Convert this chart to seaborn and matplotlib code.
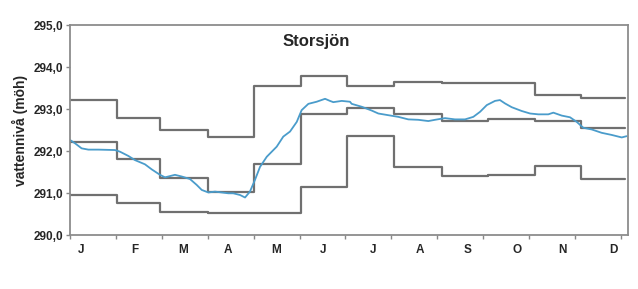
import numpy as np
import pandas as pd
import matplotlib
matplotlib.use("Agg")
import matplotlib.pyplot as plt
import seaborn as sns

# ---- data ----
step_days = [1, 32, 60, 91, 121, 152, 182, 213, 244, 274, 305, 335, 364]
upper_limit = [293.22, 292.79, 292.51, 292.35, 293.56, 293.79, 293.56, 293.66, 293.62, 293.62, 293.35, 293.28, 293.28]
middle_line = [292.21, 291.82, 291.37, 291.04, 291.69, 292.90, 293.04, 292.90, 292.72, 292.76, 292.73, 292.55, 292.55]
lower_limit = [290.97, 290.78, 290.56, 290.52, 290.53, 291.14, 292.37, 291.63, 291.41, 291.44, 291.66, 291.35, 291.35]

obs_days = [1, 4.3, 8.6, 13, 19.5, 30.4, 33.7, 39.1, 43.5, 50, 54.4, 59.8, 63.1, 69.6, 74,
            79.4, 83.8, 87.1, 91.4, 95.8, 104.5, 107.7, 112.1, 115.4, 118.6, 121.9, 125.2,
            129.6, 136.1, 140.4, 144.8, 149.2, 152.4, 156.8, 162.2, 167.7, 170.9, 173.1,
            178.6, 184, 185.1, 191.7, 198.2, 202.5, 209, 215.6, 222.1, 228.6, 235.2, 239.6,
            246.1, 252.6, 259.2, 264.6, 269, 273.4, 278.8, 282, 285.3, 289.7, 296.2, 301.7,
            307.1, 313.6, 316.9, 322.4, 327.8, 332.2, 336.5, 342, 348.5, 355, 361.6, 364.8]
obs_level = [292.27, 292.19, 292.07, 292.04, 292.04, 292.03, 291.99, 291.89, 291.79, 291.69,
             291.57, 291.44, 291.38, 291.44, 291.40, 291.34, 291.20, 291.08, 291.02, 291.04,
             291.00, 291.00, 290.96, 290.90, 291.04, 291.32, 291.63, 291.87, 292.11, 292.35,
             292.47, 292.70, 292.98, 293.13, 293.18, 293.25, 293.20, 293.17, 293.20, 293.18,
             293.13, 293.06, 292.97, 292.90, 292.86, 292.82, 292.76, 292.75, 292.72, 292.75,
             292.79, 292.76, 292.76, 292.82, 292.94, 293.10, 293.20, 293.22, 293.14, 293.05,
             292.96, 292.90, 292.88, 292.88, 292.92, 292.85, 292.81, 292.70, 292.56, 292.52,
             292.44, 292.39, 292.33, 292.36]
# fix lengths (observations)
obs_days = obs_days[:len(obs_level)]

month_labels = ["J", "F", "M", "A", "M", "J", "J", "A", "S", "O", "N", "D"]
month_label_pos = [8, 43.5, 74.7, 104.3, 135.6, 166.4, 199, 229.8, 261, 293, 322.6, 355.9]
y_ticks = [290, 291, 292, 293, 294, 295]
title = "Storsjön"
ylabel = "vattennivå (möh)"

# ---- plot ----
sns.set_style("white")
plt.rcParams['font.family'] = ['Liberation Sans', 'DejaVu Sans']

fig = plt.figure(figsize=(6.38, 2.89), dpi=100)
ax = fig.add_axes([70/638, 1 - 235.3/289, 558/638, 210/289])

steps = pd.DataFrame({"day": step_days, "upper": upper_limit,
                      "middle": middle_line, "lower": lower_limit})
gray = "#707070"
for col in ["upper", "middle", "lower"]:
    sns.lineplot(data=steps, x="day", y=col, ax=ax, color=gray, linewidth=1.6,
                 drawstyle="steps-post", estimator=None, sort=False)

obs = pd.DataFrame({"day": obs_days, "level": obs_level})
sns.lineplot(data=obs, x="day", y="level", ax=ax, color="#4a9ccb", linewidth=1.3,
             estimator=None, sort=False)

ax.set_xlim(1, 365.7)
ax.set_ylim(290, 295)
ax.set_yticks(y_ticks)
ax.set_yticklabels([f"{v:.1f}".replace(".", ",") for v in y_ticks],
                   fontsize=8.5, fontweight="bold")
ax.set_xticks(np.arange(1, 362, 30))
ax.set_xticklabels([])
ax.set_xticks(month_label_pos, minor=True)
ax.set_xticklabels(month_labels, minor=True, fontsize=8.5, fontweight="bold")
ax.tick_params(axis="x", which="major", direction="out", length=3, width=1,
               color="#888888", bottom=True)
ax.tick_params(axis="x", which="minor", length=0, pad=6)
ax.tick_params(axis="y", which="major", direction="out", length=3, width=1,
               color="#888888", left=True, pad=2)
ax.set_xlabel("")
ax.set_ylabel(ylabel, fontsize=10, fontweight="bold", labelpad=4)

for s in ax.spines.values():
    s.set_color("#8c8c8c")
    s.set_linewidth(1.3)

ax.text(0.442, 0.925, title, transform=ax.transAxes, ha="center", va="center",
        fontsize=12, fontweight="bold")

fig.savefig("out.png", dpi=100)
